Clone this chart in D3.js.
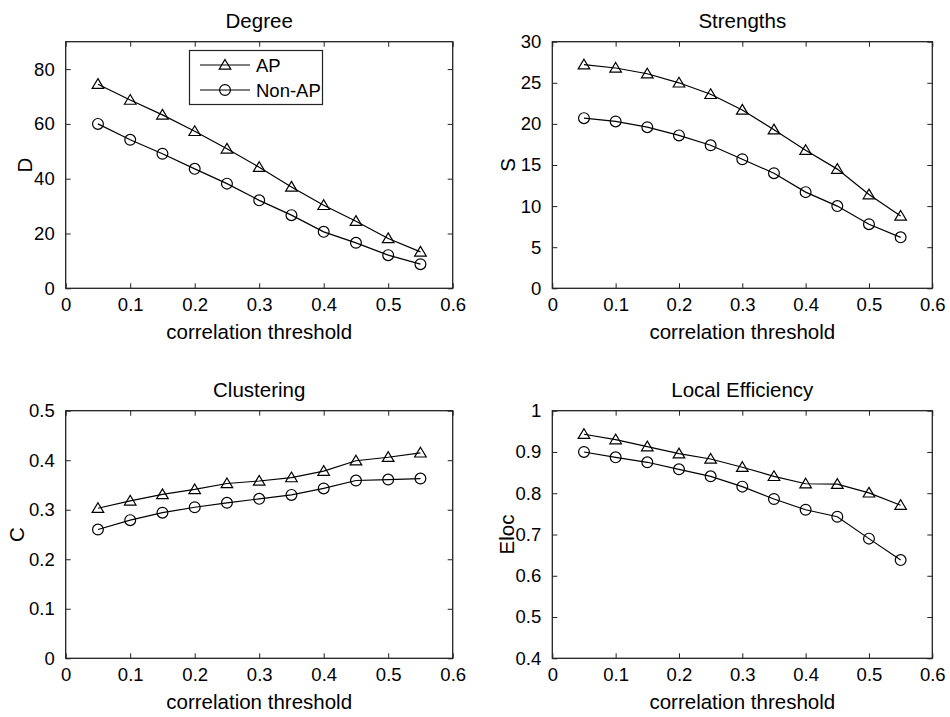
<!DOCTYPE html>
<html>
<head>
<meta charset="utf-8">
<script src="https://d3js.org/d3.v7.min.js"></script>
<style>
  body { margin: 0; padding: 0; background: #fff; overflow: hidden; }
  svg text { font-family: "Liberation Sans", Arial, Helvetica, sans-serif; fill: #000; }
</style>
</head>
<body>
<svg id="chart" width="950" height="717"></svg>
<script>
// thresholds shared by every panel
var thresholds = [0.05, 0.1, 0.15, 0.2, 0.25, 0.3, 0.35, 0.4, 0.45, 0.5, 0.55];
var xTicks = [0, 0.1, 0.2, 0.3, 0.4, 0.5, 0.6];
var seriesNames = ["AP", "Non-AP"];

// values
var degreeAP    = [74.5, 68.7, 63.3, 57.3, 50.9, 44.2, 37.0, 30.3, 24.5, 18.2, 13.3];
var degreeNonAP = [60.0, 54.2, 49.1, 43.6, 38.2, 32.1, 26.7, 20.6, 16.6, 12.1, 8.8];
var strengthAP    = [27.2, 26.8, 26.1, 25.0, 23.6, 21.7, 19.3, 16.8, 14.5, 11.4, 8.8];
var strengthNonAP = [20.7, 20.3, 19.6, 18.6, 17.4, 15.7, 14.0, 11.7, 10.0, 7.8, 6.2];
var clusterAP    = [0.303, 0.318, 0.331, 0.341, 0.353, 0.358, 0.365, 0.378, 0.399, 0.406, 0.415];
var clusterNonAP = [0.260, 0.279, 0.294, 0.305, 0.314, 0.322, 0.330, 0.343, 0.359, 0.361, 0.363];
var elocAP    = [0.943, 0.930, 0.913, 0.896, 0.883, 0.863, 0.841, 0.823, 0.822, 0.801, 0.771];
var elocNonAP = [0.900, 0.887, 0.875, 0.858, 0.841, 0.816, 0.786, 0.760, 0.743, 0.690, 0.638];

var degreeTicks = [0, 20, 40, 60, 80];
var strengthTicks = [0, 5, 10, 15, 20, 25, 30];
var clusterTicks = [0, 0.1, 0.2, 0.3, 0.4, 0.5];
var elocTicks = [0.4, 0.5, 0.6, 0.7, 0.8, 0.9, 1];

var panels = [
  {title: "Degree", ylab: "D", ap: degreeAP, non: degreeNonAP, ydom: [0, 90], yticks: degreeTicks,
   box: [65.7, 41.7, 452.7, 288.3], ylabX: 25, legend: true},
  {title: "Strengths", ylab: "S", ap: strengthAP, non: strengthNonAP, ydom: [0, 30], yticks: strengthTicks,
   box: [552.3, 41.7, 932.3, 288.3], ylabX: 508},
  {title: "Clustering", ylab: "C", ap: clusterAP, non: clusterNonAP, ydom: [0, 0.5], yticks: clusterTicks,
   box: [65.7, 410.7, 452.7, 658.3], ylabX: 17},
  {title: "Local Efficiency", ylab: "Eloc", ap: elocAP, non: elocNonAP, ydom: [0.4, 1], yticks: elocTicks,
   box: [552.3, 410.7, 932.3, 658.3], ylabX: 507}
];

var svg = d3.select("#chart");
var tri = "M0,-5.5L5.8,4.2L-5.8,4.2Z";
var fmt = function(d) { return d3.format("")(+d.toFixed(2)); };

function drawMarker(g, kind, x, y) {
  if (kind == 0) {
    g.append("path").attr("d", tri).attr("transform", "translate(" + x + "," + y + ")")
      .attr("fill", "none").attr("stroke", "#000").attr("stroke-width", 1.2);
  } else {
    g.append("circle").attr("cx", x).attr("cy", y).attr("r", 5.4)
      .attr("fill", "none").attr("stroke", "#000").attr("stroke-width", 1.2);
  }
}

panels.forEach(function(p) {
  var x0 = p.box[0], y0 = p.box[1], x1 = p.box[2], y1 = p.box[3];
  var x = d3.scaleLinear().domain([0, 0.6]).range([x0, x1]);
  var y = d3.scaleLinear().domain(p.ydom).range([y1, y0]);
  var g = svg.append("g");

  // inward ticks on all four sides, like a matlab box
  g.append("g").attr("transform", "translate(0," + y1 + ")")
    .call(d3.axisBottom(x).tickValues(xTicks).tickSize(-5).tickPadding(10).tickFormat(fmt));
  g.append("g").attr("transform", "translate(0," + y0 + ")")
    .call(d3.axisTop(x).tickValues(xTicks).tickSize(-5).tickFormat(""));
  g.append("g").attr("transform", "translate(" + x0 + ",0)")
    .call(d3.axisLeft(y).tickValues(p.yticks).tickSize(-5).tickPadding(11).tickFormat(fmt));
  g.append("g").attr("transform", "translate(" + x1 + ",0)")
    .call(d3.axisRight(y).tickValues(p.yticks).tickSize(-5).tickFormat(""));

  g.selectAll(".domain").remove();
  g.selectAll(".tick line").attr("stroke", "#222");
  g.selectAll(".tick text").style("font-size", "18.5px").attr("fill", "#000");
  g.append("rect").attr("x", x0).attr("y", y0).attr("width", x1 - x0).attr("height", y1 - y0)
    .attr("fill", "none").attr("stroke", "#222").attr("stroke-width", 1.3);

  var line = d3.line().x(function(d, i) { return x(thresholds[i]); }).y(function(d) { return y(d); });
  [p.ap, p.non].forEach(function(vals, k) {
    g.append("path").attr("d", line(vals)).attr("fill", "none")
      .attr("stroke", "#000").attr("stroke-width", 1.2);
    vals.forEach(function(v, i) { drawMarker(g, k, x(thresholds[i]), y(v)); });
  });

  g.append("text").attr("x", (x0 + x1) / 2).attr("y", y0 - 14).attr("text-anchor", "middle")
    .style("font-size", "20.5px").text(p.title);
  g.append("text").attr("x", (x0 + x1) / 2).attr("y", y1 + 51).attr("text-anchor", "middle")
    .style("font-size", "20.5px").text("correlation threshold");
  g.append("text").attr("transform", "translate(" + (p.ylabX + 7) + "," + ((y0 + y1) / 2) + ") rotate(-90)")
    .attr("text-anchor", "middle").style("font-size", "20.5px").text(p.ylab);

  if (p.legend) {
    var lg = g.append("g");
    lg.append("rect").attr("x", 189.5).attr("y", 50.5).attr("width", 133).attr("height", 54)
      .attr("fill", "#fff").attr("stroke", "#222").attr("stroke-width", 1.2);
    seriesNames.forEach(function(name, k) {
      var ly = 65 + k * 25;
      lg.append("line").attr("x1", 200).attr("x2", 250).attr("y1", ly).attr("y2", ly)
        .attr("stroke", "#000").attr("stroke-width", 1.2);
      drawMarker(lg, k, 225, ly);
      lg.append("text").attr("x", 256).attr("y", ly + 6.5).style("font-size", "18.5px").text(name);
    });
  }
});
</script>
</body>
</html>
